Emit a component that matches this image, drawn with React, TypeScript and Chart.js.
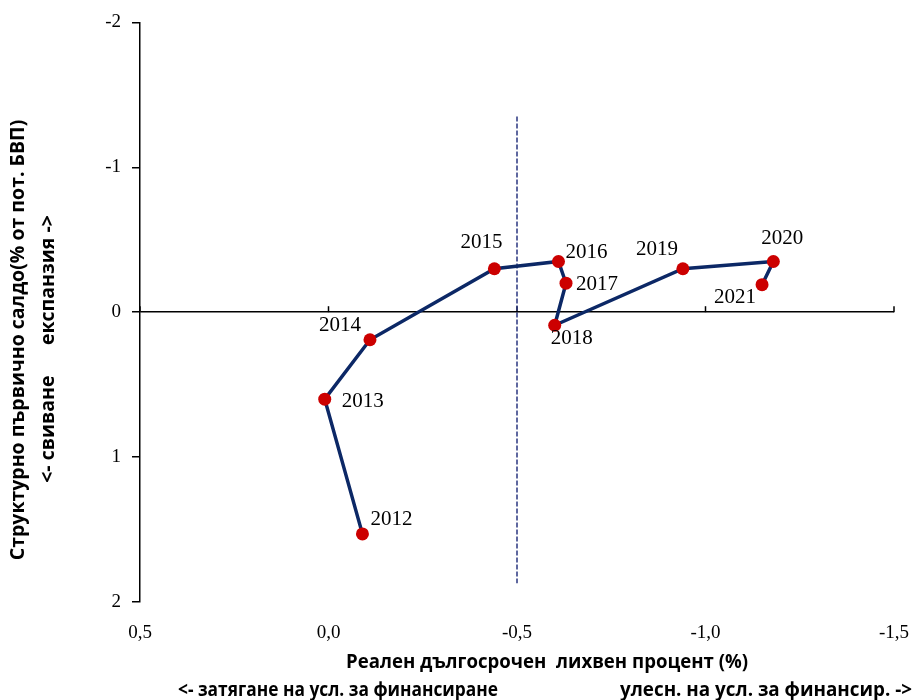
import React, { useEffect, useRef } from 'react';
import { Chart, registerables } from 'chart.js';

Chart.register(...registerables);

// ---- data ----
const years = ['2012', '2013', '2014', '2015', '2016', '2017', '2018', '2019', '2020', '2021'];
const realInterestRate = [-0.09, 0.01, -0.11, -0.44, -0.61, -0.63, -0.6, -0.94, -1.18, -1.15];
const structuralPrimaryBalance = [1.53, 0.6, 0.19, -0.3, -0.35, -0.2, 0.09, -0.3, -0.35, -0.19];
const xTickValues = [0.5, 0, -0.5, -1, -1.5];
const yTickValues = [-2, -1, 0, 1, 2];
const referenceRate = -0.5;
const referenceLineFrom = -1.35;
const referenceLineTo = 1.87;

const xTitle = 'Реален дългосрочен  лихвен процент (%)';
const xSubLeft = '<- затягане на усл. за финансиране';
const xSubRight = 'улесн. на усл. за финансир. ->';
const yTitle = 'Структурно първично салдо(% от пот. БВП)';
const ySub = '<- свиване      експанзия ->';

// label placement around each point: [dx, dy, align]
const labelPlacement: [number, number, CanvasTextAlign][] = [
  [8, -14, 'left'],
  [17, 2, 'left'],
  [-9, -14, 'right'],
  [-13, -26, 'center'],
  [7, -9, 'left'],
  [10, 1, 'left'],
  [17, 13, 'center'],
  [-26, -19, 'center'],
  [9, -23, 'center'],
  [-27, 13, 'center'],
];

const SERIF = '"Liberation Serif", "DejaVu Serif", serif';
const TITLE_FONT = 'bold 19.5px "Liberation Sans Narrow", "Open Sans", sans-serif';

const decorPlugin = {
  id: 'decor',
  beforeDatasetsDraw(chart: any) {
    const { ctx, scales } = chart;
    const x = scales.x;
    const y = scales.y;
    const y0 = y.getPixelForValue(0);
    ctx.save();
    ctx.strokeStyle = '#000';
    ctx.lineWidth = 1.5;
    xTickValues.forEach((v) => {
      const px = x.getPixelForValue(v);
      ctx.beginPath();
      ctx.moveTo(px, y0);
      ctx.lineTo(px, y0 - 6);
      ctx.stroke();
    });
    const rx = x.getPixelForValue(referenceRate);
    ctx.strokeStyle = '#2a3680';
    ctx.lineWidth = 1.5;
    ctx.setLineDash([5, 2]);
    ctx.beginPath();
    ctx.moveTo(rx, y.getPixelForValue(referenceLineFrom));
    ctx.lineTo(rx, y.getPixelForValue(referenceLineTo));
    ctx.stroke();
    ctx.restore();
  },
  afterDatasetsDraw(chart: any) {
    const { ctx } = chart;
    const meta = chart.getDatasetMeta(0);
    ctx.save();
    ctx.fillStyle = '#000';
    ctx.font = '21px ' + SERIF;
    ctx.textBaseline = 'middle';
    meta.data.forEach((pt: any, i: number) => {
      const [dx, dy, align] = labelPlacement[i];
      ctx.textAlign = align;
      ctx.fillText(years[i], pt.x + dx, pt.y + dy);
    });
    ctx.restore();
  },
  afterDraw(chart: any) {
    const { ctx } = chart;
    ctx.save();
    ctx.fillStyle = '#000';
    ctx.font = TITLE_FONT;
    ctx.textBaseline = 'middle';
    ctx.textAlign = 'center';
    ctx.fillText(xTitle, 547, 662, 402);
    ctx.textAlign = 'left';
    ctx.fillText(xSubLeft, 178, 690, 320);
    ctx.textAlign = 'right';
    ctx.fillText(xSubRight, 912, 690, 292);
    ctx.save();
    ctx.translate(18, 340);
    ctx.rotate(-Math.PI / 2);
    ctx.textAlign = 'center';
    ctx.fillText(yTitle, 0, 0, 445);
    ctx.restore();
    ctx.save();
    ctx.translate(48, 349);
    ctx.rotate(-Math.PI / 2);
    ctx.textAlign = 'center';
    ctx.fillText(ySub, 0, 0, 268);
    ctx.restore();
    ctx.restore();
  },
};

export default function App() {
  const ref = useRef<HTMLCanvasElement | null>(null);
  useEffect(() => {
    if (!ref.current) return;
    const chart = new Chart(ref.current, {
      type: 'scatter',
      data: {
        datasets: [
          {
            data: realInterestRate.map((v, i) => ({ x: v, y: structuralPrimaryBalance[i] })),
            showLine: true,
            borderColor: '#0c2866',
            borderWidth: 3.5,
            pointRadius: 6.5,
            pointHoverRadius: 6.5,
            pointBackgroundColor: '#cc0000',
            pointBorderColor: '#cc0000',
            pointBorderWidth: 0,
            tension: 0,
          },
        ],
      },
      options: {
        responsive: false,
        animation: false,
        events: [],
        layout: { padding: { left: 0, right: 23, top: 22, bottom: 0 } },
        plugins: {
          legend: { display: false },
          tooltip: { enabled: false },
          title: { display: false },
        },
        scales: {
          x: {
            type: 'linear',
            reverse: true,
            min: -1.5,
            max: 0.5,
            afterBuildTicks: (s: any) => {
              s.ticks = xTickValues.map((v) => ({ value: v }));
            },
            afterFit: (s: any) => {
              s.height = 98;
              s.paddingLeft = 0;
              s.paddingRight = 0;
            },
            border: { display: false },
            grid: { display: false, drawTicks: false },
            ticks: {
              padding: 20,
              maxRotation: 0,
              autoSkip: false,
              color: '#000',
              font: { family: SERIF, size: 19 },
              callback: (v: any) => Number(v).toFixed(1).replace('.', ','),
            },
          },
          y: {
            type: 'linear',
            reverse: true,
            min: -2,
            max: 2,
            afterBuildTicks: (s: any) => {
              s.ticks = yTickValues.map((v) => ({ value: v }));
            },
            afterFit: (s: any) => {
              s.width = 140;
            },
            border: { display: true, color: '#000', width: 1.5 },
            grid: {
              display: true,
              drawOnChartArea: true,
              drawTicks: true,
              tickLength: 8,
              tickColor: '#000',
              tickWidth: 1.5,
              lineWidth: 1.5,
              color: (c: any) => (c.tick && c.tick.value === 0 ? '#000' : 'rgba(0,0,0,0)'),
            },
            ticks: {
              padding: 11,
              autoSkip: false,
              color: '#000',
              font: { family: SERIF, size: 19 },
              callback: (v: any) => String(v),
            },
          },
        },
      },
      plugins: [decorPlugin],
    });
    return () => chart.destroy();
  }, []);
  return (
    <div style={{ position: 'fixed', left: 0, top: 0, width: 917, height: 700, background: '#fff' }}>
      <canvas ref={ref} width={917} height={700} style={{ width: 917, height: 700 }} />
    </div>
  );
}
